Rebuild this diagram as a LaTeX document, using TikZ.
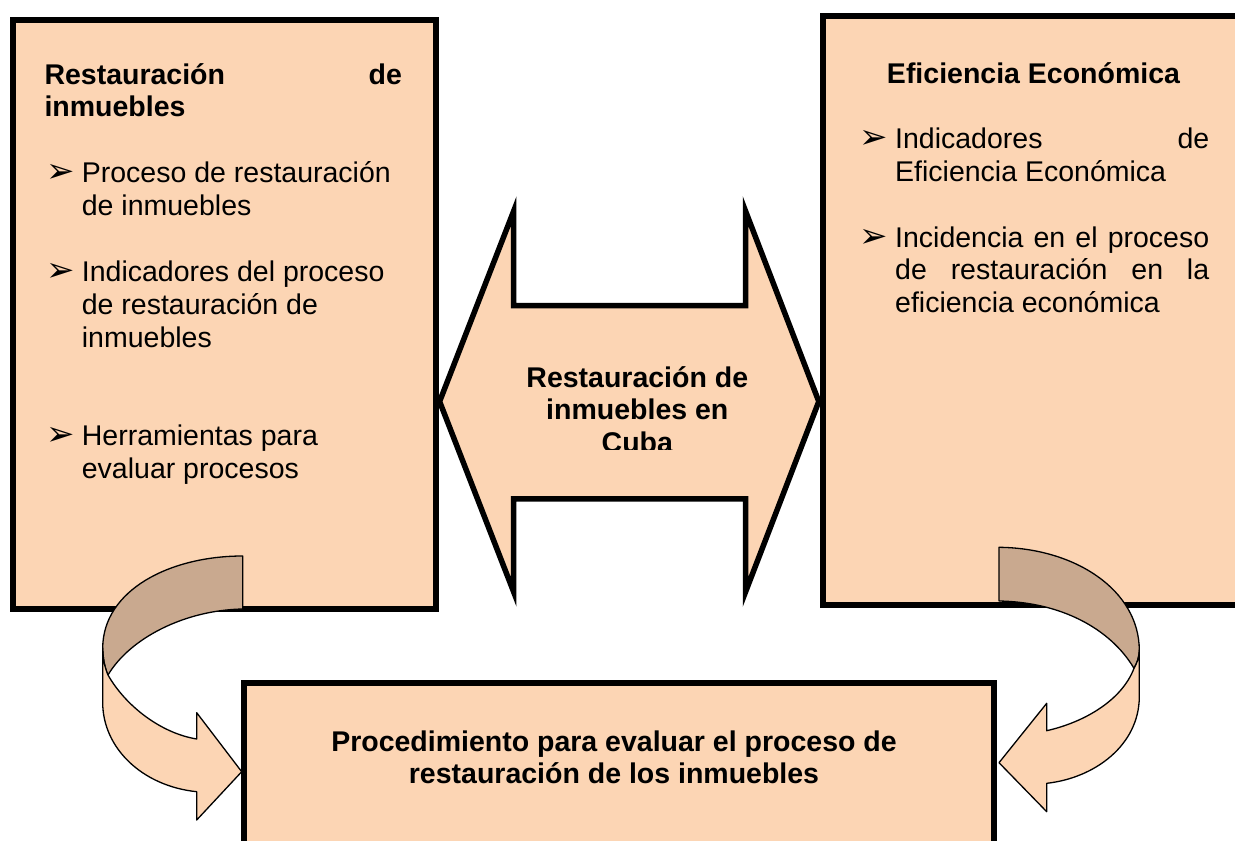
\documentclass[tikz,border=0pt]{standalone}
\usepackage{fontspec}
\setmainfont{Liberation Sans}
\newfontfamily\dejavu{DejaVu Sans}
\definecolor{peach}{HTML}{FCD5B4}
\definecolor{tanback}{HTML}{C9A98F}
\begin{document}
\begin{tikzpicture}[x=1pt,y=-1pt,
  box/.style={draw=black, line width=6pt, fill=peach, rectangle, inner sep=0pt, outer sep=0pt, anchor=north west},
  dbl/.style={draw=black, line width=5.5pt, fill=peach, miter limit=10, line join=miter},
  curvefront/.style={draw=black, line width=1.3pt, fill=peach, line join=round},
  curveback/.style={draw=black, line width=1.3pt, fill=tanback, line join=round},
  txt/.style={inner sep=0pt, anchor=base west, font=\fontsize{28.5}{32.7}\selectfont},
  btxt/.style={inner sep=0pt, anchor=base west, font=\fontsize{28.5}{32.7}\selectfont\bfseries},
  ctxt/.style={btxt, anchor=base},
  bul/.style={inner sep=0pt, anchor=base west, font=\dejavu\fontsize{34}{34}\selectfont}
]
\clip (0,0) rectangle (1235,841);
\fill[white] (0,0) rectangle (1235,841);

% boxes
\node[box, minimum width=423.3pt, minimum height=588.7pt] (lbox) at (13,20.3) {};
\node[box, minimum width=430pt, minimum height=588.7pt] (rbox) at (823,16.3) {};
\node[box, minimum width=749.4pt, minimum height=180pt] (bbox) at (244.3,683) {};

% double arrow
\draw[dbl] (439.6,401.5) -- (513.7,211) -- (513.7,305.5) -- (745.5,305.5) -- (745.5,211)
  -- (818.8,401.5) -- (745.5,592) -- (745.5,498.8) -- (513.7,498.8) -- (513.7,592) -- cycle;
\begin{scope}
  \clip (500,300) rectangle (760,449.5);
  \node[ctxt] (ct1) at (637.3,387) {Restauración de};
  \node[ctxt] (ct2) at (637.3,419.5) {inmuebles en};
  \node[ctxt] (ct3) at (637.3,452) {Cuba};
\end{scope}

% left curved arrow
\draw[curveback] (242.7,556) .. controls (170,556) and (103,590) .. (102.7,648)
  .. controls (103,660) and (105,668) .. (108,675)
  .. controls (130,638) and (185,610) .. (242.7,609) -- cycle;
\draw[curvefront] (102.7,648) -- (102.7,703) .. controls (103,748) and (142,786) .. (196.7,791.7)
  -- (196.7,820) -- (241.7,771.7) -- (196.7,712.7) -- (196.7,739)
  .. controls (160,733) and (125,705) .. (108,675)
  .. controls (105,668) and (103,660) .. (102.7,648) -- cycle;

% right curved arrow
\draw[curveback] (999,547.3) .. controls (1075,548) and (1139,590) .. (1139.3,650)
  .. controls (1139,658) and (1137,663) .. (1134,668.3)
  .. controls (1110,628) and (1060,602) .. (999,601) -- cycle;
\draw[curvefront] (1139.3,650) -- (1139.3,697) .. controls (1139,745) and (1095,778) .. (1046.7,783.3)
  -- (1046.7,811.7) -- (999,762.7) -- (1046.7,703.3) -- (1046.7,730.7)
  .. controls (1085,722) and (1122,700) .. (1134,668.3)
  .. controls (1137,663) and (1139,658) .. (1139.3,650) -- cycle;

% left box text
\node[btxt] (lt1) at (44.3,84) {\hbox to 357.4pt{Restauración\hfill de}};
\node[btxt] (lt2) at (44.3,116.7) {inmuebles};
\node[bul] (lb1) at (46,182.6) {➢};
\node[txt] (l11) at (81.7,182.6) {Proceso de restauración};
\node[txt] (l12) at (81.7,215.3) {de inmuebles};
\node[bul] (lb2) at (46,281.7) {➢};
\node[txt] (l21) at (81.7,281.7) {Indicadores del proceso};
\node[txt] (l22) at (81.7,314.4) {de restauración de};
\node[txt] (l23) at (81.7,347.1) {inmuebles};
\node[bul] (lb3) at (46,445.5) {➢};
\node[txt] (l31) at (81.7,445.5) {Herramientas para};
\node[txt] (l32) at (81.7,478.2) {evaluar procesos};

% right box text
\node[btxt, anchor=base] (rt) at (1033.5,83) {Eficiencia Económica};
\node[bul] (rb1) at (859.3,148.2) {➢};
\node[txt] (r11) at (895,148.2) {\hbox to 314pt{Indicadores\hfill de}};
\node[txt] (r12) at (895,181) {Eficiencia Económica};
\node[bul] (rb2) at (859.3,247) {➢};
\node[txt] (r21) at (895,247) {\hbox to 314pt{Incidencia en el proceso}};
\node[txt] (r22) at (895,279.8) {\hbox to 314pt{de restauración en la}};
\node[txt] (r23) at (895,312.2) {eficiencia económica};

% bottom box text
\node[ctxt] (bt1) at (614,751) {Procedimiento para evaluar el proceso de};
\node[ctxt] (bt2) at (614,783) {restauración de los inmuebles};
\end{tikzpicture}
\end{document}
